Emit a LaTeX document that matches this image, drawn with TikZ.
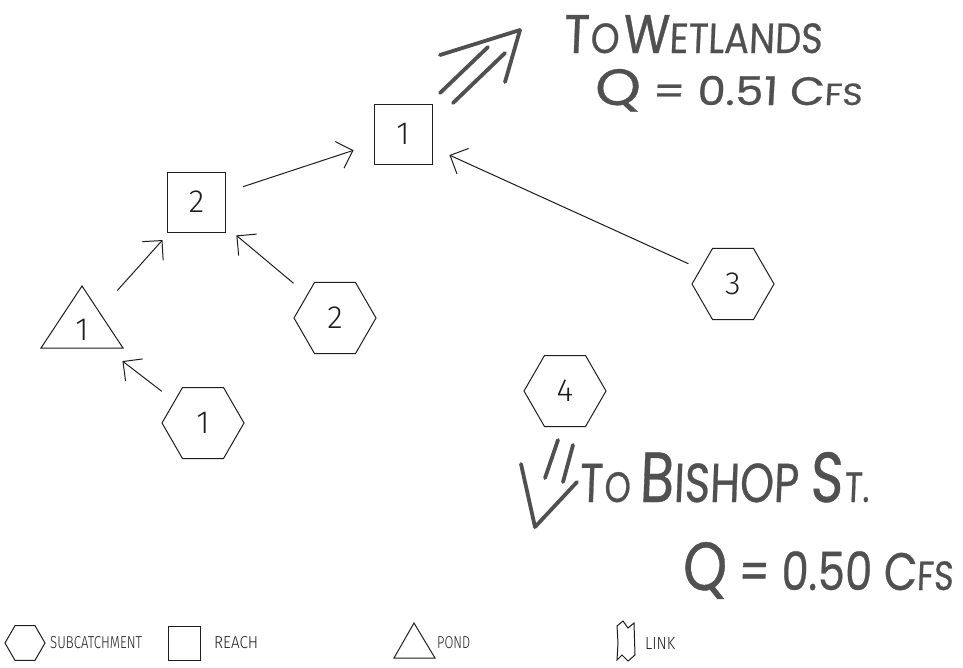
\documentclass[tikz,border=0pt]{standalone}
\usepackage{fontspec}
\usetikzlibrary{shapes.geometric,arrows.meta,calc}
\IfFontExistsTF{Fira Sans Light}{\newfontfamily\plotfont{Fira Sans Light}}{\newfontfamily\plotfont{Fira Sans}}
\newfontfamily\handfont[FakeSlant=0.05,FakeBold=0.6]{Poppins}
\definecolor{ink}{HTML}{1E1E1E}
\definecolor{pen}{HTML}{505050}
% size switches for the hand lettering
\newcommand{\hbig}{\fontsize{40}{40}\selectfont}
\newcommand{\hmid}{\fontsize{31}{31}\selectfont}
\newcommand{\hsml}{\fontsize{24}{24}\selectfont}
\tikzset{
  plot/.style={draw=ink, line width=1pt},
  digit/.style={font=\plotfont\fontsize{32}{32}\selectfont, text=ink},
  reach/.style={plot, digit, rectangle, minimum width=58pt, minimum height=60pt, inner sep=0pt},
  sub/.style={plot, digit, regular polygon, regular polygon sides=6, minimum size=82pt, inner sep=0pt},
  flow/.style={draw=ink, line width=1pt, -{Straight Barb[length=14pt,width=28pt]}},
  pen/.style={draw=pen, line width=3.8pt, line cap=round, line join=round},
  hand/.style={text=pen, inner sep=0pt, anchor=base west, font=\handfont},
  legtext/.style={inner sep=0pt, anchor=west, text=ink, font=\plotfont\fontsize{16}{16}\selectfont},
}
\begin{document}
\begin{tikzpicture}[x=1pt, y=-1pt]
  \fill[white] (0,0) rectangle (963,667);
  \useasboundingbox (0,0) rectangle (963,667);

  % reaches
  \node[reach] (r1) at (403,134) {1};
  \node[reach] (r2) at (196.5,202) {2};

  % subcatchments
  \node[sub] (s1) at (203,423) {1};
  \node[sub] (s2) at (335,318) {2};
  \node[sub] (s3) at (733,284) {3};
  \node[sub] (s4) at (565,391) {4};

  % pond
  \node[digit, inner sep=0pt] (p1) at (82,330) {1};
  \draw[plot, line join=miter] ($(p1)+(-41,18)$) -- ($(p1)+(0,-44)$) -- ($(p1)+(41,18)$) -- cycle;

  % routing
  \draw[flow] ($(s1)!52pt!(p1)$) -- ($(p1)!51pt!(s1)$);
  \draw[flow] ($(p1)!53pt!(r2)$) -- ($(r2)!51pt!(p1)$);
  \draw[flow] ($(s2)!54pt!(r2)$) -- ($(r2)!52pt!(s2)$);
  \draw[flow] ($(r2)!49pt!(r1)$) -- ($(r1)!52pt!(r2)$);
  \draw[flow] ($(s3)!49pt!(r1)$) -- ($(r1)!51pt!(s3)$);

  % outflow to the wetlands
  \coordinate (wtip) at (520,30);
  \draw[pen] (440,55) -- (wtip) -- (505,82);
  \draw[pen] (488,47) -- (440,93);
  \draw[pen] (505,53) -- (453,103);
  \node[hand] (wt) at (563,53) {\resizebox{259pt}{38pt}{\hbig T\kern1pt\hmid O\kern3pt\hbig W\hmid ETLANDS}};
  \node[hand] (wq) at (594,105) {\resizebox{268pt}{36pt}{\hbig Q\hmid{} = 0.51 \hmid C\hsml FS}};

  % outflow to Bishop St.
  \coordinate (btip) at (535,527);
  \draw[pen] (521,464) -- (btip) -- (577,482);
  \draw[pen] (558,440) -- (545,478);
  \draw[pen] (573,445) -- (563,482);
  \node[hand] (bt) at (579,502) {\resizebox{290pt}{50pt}{\hmid T\kern1pt\hsml O \hbig B\hmid ISHOP \hbig S\kern1pt\hsml T.}};
  \node[hand] (bq) at (682,590) {\resizebox{271pt}{48pt}{\hbig Q\hmid{} = 0.50 \hmid C\hsml FS}};

  % legend
  \node[plot, regular polygon, regular polygon sides=6, minimum size=40pt, inner sep=0pt] (lgs) at (25,643) {};
  \node[legtext] (lts) at (50,643) {\resizebox{92pt}{12pt}{SUBCATCHMENT}};
  \node[plot, rectangle, minimum width=32pt, minimum height=34pt, inner sep=0pt] (lgr) at (184,643) {};
  \node[legtext] (ltr) at (214,643) {\resizebox{44pt}{12pt}{REACH}};
  \coordinate (lgp) at (414,641);
  \draw[plot, line join=miter] ($(lgp)+(-20,17)$) -- ($(lgp)+(0,-18)$) -- ($(lgp)+(21,17)$) -- cycle;
  \node[legtext] (ltp) at (437,643) {\resizebox{33pt}{12pt}{POND}};
  \coordinate (lgl) at (626,641);
  \draw[plot] ($(lgl)+(-9,-15)$) -- ($(lgl)+(-3,-20)$) -- ($(lgl)+(2,-13)$) -- ($(lgl)+(8,-18)$)
    -- ($(lgl)+(9,14)$) -- ($(lgl)+(2,20)$) -- ($(lgl)+(-4,14)$) -- ($(lgl)+(-9,19)$)
    -- ($(lgl)+(-8,2)$) -- cycle;
  \node[legtext] (ltl) at (645,643) {\resizebox{30pt}{12pt}{LINK}};
\end{tikzpicture}
\end{document}
